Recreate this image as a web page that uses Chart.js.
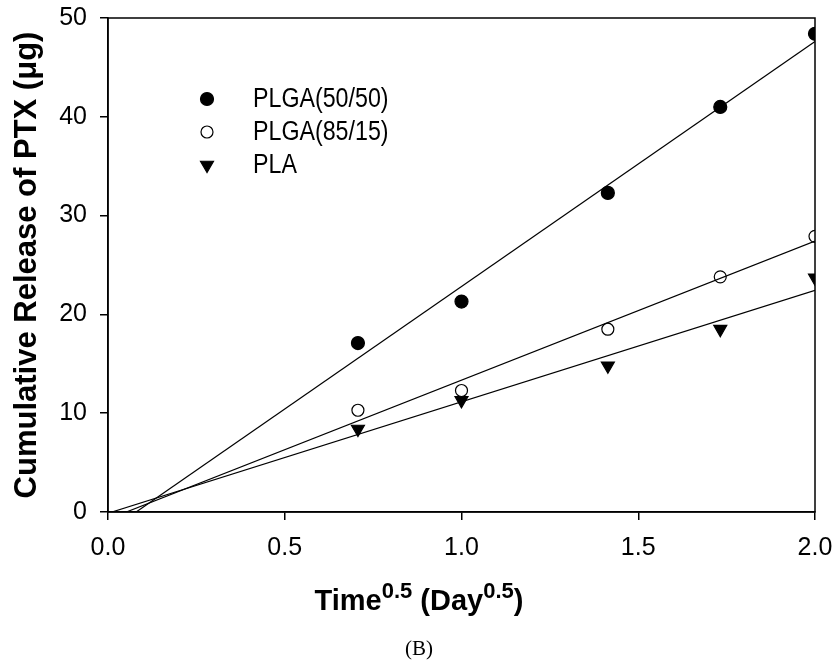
<!DOCTYPE html>
<html lang="en">
<head>
    <meta charset="UTF-8">
    <title>Cumulative release of PTX</title>
    <script src="https://cdn.jsdelivr.net/npm/chart.js"></script>
    <style>
        html, body {
            margin: 0;
            padding: 0;
            background: white;
        }
        .wrap {
            position: relative;
            width: 838px;
            height: 670px;
        }
        #releaseChart {
            position: absolute;
            left: 0;
            top: 0;
        }
        .x-title {
            position: absolute;
            left: 0;
            width: 838px;
            top: 584px;
            text-align: center;
            font-family: "Liberation Sans", Arial, sans-serif;
            font-weight: bold;
            font-size: 29px;
            color: black;
        }
        .x-title sup {
            font-size: 22px;
            vertical-align: 12px;
            line-height: 0;
        }
        .panel {
            position: absolute;
            left: 0;
            width: 838px;
            top: 636px;
            text-align: center;
            font-family: "Liberation Serif", "Times New Roman", serif;
            font-size: 21px;
            color: black;
        }
    </style>
</head>
<body>
    <div class="wrap">
        <canvas id="releaseChart" width="838" height="670"></canvas>
        <div class="x-title">Time<sup>0.5</sup> (Day<sup>0.5</sup>)</div>
        <div class="panel">(B)</div>
    </div>

    <script>
        // sqrt(day) values: 0.5, 1, 2, 3, 4 days
        const timeSqrt = [0.707, 1.0, 1.414, 1.732, 2.0];
        const plga5050 = [17.1, 21.3, 32.3, 41.0, 48.4];
        const plga8515 = [10.3, 12.3, 18.5, 23.8, 27.9];
        const pla = [8.4, 11.3, 14.8, 18.5, 23.7];
        const seriesNames = ['PLGA(50/50)', 'PLGA(85/15)', 'PLA'];
        const xTicks = [0.0, 0.5, 1.0, 1.5, 2.0];
        const yTicks = [0, 10, 20, 30, 40, 50];

        const sans = '"Liberation Sans", Arial, sans-serif';

        function toPoints(ys) {
            return timeSqrt.map((x, i) => ({ x: x, y: ys[i] }));
        }

        // least squares line, drawn from where it crosses y = 0 (or x = 0) to x = 2
        function fitLine(ys) {
            const n = timeSqrt.length;
            const mx = timeSqrt.reduce((a, b) => a + b, 0) / n;
            const my = ys.reduce((a, b) => a + b, 0) / n;
            let sxy = 0, sxx = 0;
            for (let i = 0; i < n; i++) {
                sxy += (timeSqrt[i] - mx) * (ys[i] - my);
                sxx += (timeSqrt[i] - mx) * (timeSqrt[i] - mx);
            }
            const slope = sxy / sxx;
            const icpt = my - slope * mx;
            const x0 = Math.max(0, -icpt / slope);
            const x1 = xTicks[xTicks.length - 1];
            return [{ x: x0, y: slope * x0 + icpt }, { x: x1, y: slope * x1 + icpt }];
        }

        const markers = [
            { pointStyle: 'circle', radius: 6.5, bg: 'black', rot: 0 },
            { pointStyle: 'circle', radius: 6, bg: 'white', rot: 0 },
            { pointStyle: 'triangle', radius: 7.5, bg: 'black', rot: 180 }
        ];
        const allSeries = [plga5050, plga8515, pla];

        const datasets = [];
        allSeries.forEach((ys) => {
            datasets.push({
                type: 'line',
                data: fitLine(ys),
                borderColor: 'black',
                borderWidth: 1.2,
                pointRadius: 0,
                fill: false
            });
        });
        allSeries.forEach((ys, i) => {
            datasets.push({
                label: seriesNames[i],
                data: toPoints(ys),
                showLine: false,
                pointStyle: markers[i].pointStyle,
                pointRadius: markers[i].radius,
                pointRotation: markers[i].rot,
                pointBackgroundColor: markers[i].bg,
                pointBorderColor: 'black',
                pointBorderWidth: 1.2
            });
        });

        const boxAndLegend = {
            id: 'boxAndLegend',
            afterDraw(chart) {
                const ctx = chart.ctx;
                const a = chart.chartArea;
                ctx.save();
                ctx.strokeStyle = 'black';
                ctx.lineWidth = 1.5;
                ctx.strokeRect(a.left, a.top, a.right - a.left, a.bottom - a.top);

                // legend inside the plot, upper left
                ctx.textBaseline = 'middle';
                seriesNames.forEach((name, i) => {
                    const y = 99 + i * 33;
                    ctx.fillStyle = markers[i].bg;
                    ctx.strokeStyle = 'black';
                    ctx.lineWidth = 1.2;
                    Chart.helpers.drawPoint(ctx, {
                        pointStyle: markers[i].pointStyle,
                        radius: markers[i].radius,
                        rotation: markers[i].rot,
                        borderWidth: 1.2
                    }, 207, y);
                    // condensed look of the original legend font
                    ctx.save();
                    ctx.translate(253, y + 1);
                    ctx.scale(0.86, 1);
                    ctx.font = '27px ' + sans;
                    ctx.fillStyle = 'black';
                    ctx.fillText(name, 0, 0);
                    ctx.restore();
                });
                ctx.restore();
            }
        };

        new Chart(document.getElementById('releaseChart'), {
            type: 'scatter',
            data: { datasets: datasets },
            options: {
                responsive: false,
                animation: false,
                layout: { padding: { top: 18, right: 23, left: 0, bottom: 0 } },
                plugins: {
                    legend: { display: false },
                    tooltip: { enabled: false }
                },
                scales: {
                    x: {
                        type: 'linear',
                        min: 0,
                        max: 2,
                        afterBuildTicks: (s) => { s.ticks = xTicks.map(v => ({ value: v })); },
                        afterFit: (s) => {
                            s.height = 158;
                            s.paddingLeft = 0;
                            s.paddingRight = 0;
                        },
                        border: { display: true, color: 'black', width: 1.5 },
                        grid: {
                            drawOnChartArea: false,
                            drawTicks: true,
                            tickLength: 8,
                            color: 'black',
                            lineWidth: 1.5
                        },
                        ticks: {
                            color: 'black',
                            padding: 13,
                            maxRotation: 0,
                            font: { family: sans, size: 25 },
                            callback: (v) => v.toFixed(1)
                        }
                    },
                    y: {
                        type: 'linear',
                        min: 0,
                        max: 50,
                        afterBuildTicks: (s) => { s.ticks = yTicks.map(v => ({ value: v })); },
                        afterFit: (s) => {
                            s.width = 108;
                            s.paddingTop = 0;
                            s.paddingBottom = 0;
                        },
                        border: { display: true, color: 'black', width: 1.5 },
                        grid: {
                            drawOnChartArea: false,
                            drawTicks: true,
                            tickLength: 8,
                            color: 'black',
                            lineWidth: 1.5
                        },
                        ticks: {
                            color: 'black',
                            padding: 13,
                            font: { family: sans, size: 25 }
                        },
                        title: {
                            display: true,
                            text: 'Cumulative Release of PTX (\u03bcg)',
                            color: 'black',
                            padding: { top: 9, bottom: 0 },
                            font: { family: sans, size: 31, weight: 'bold' }
                        }
                    }
                }
            },
            plugins: [boxAndLegend]
        });
    </script>
</body>
</html>
